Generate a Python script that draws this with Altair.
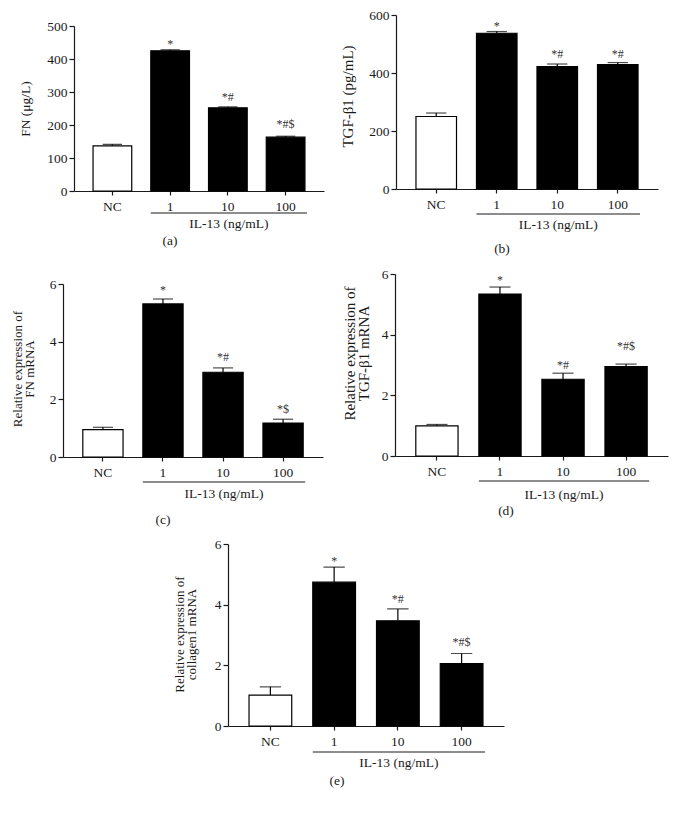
import altair as alt
import pandas as pd

# ---------------- data ----------------
cats = ["NC", "1", "10", "100"]

fn_protein = [137, 425, 252, 163]
fn_protein_err = [4, 3, 3, 3]
fn_protein_sig = ["", "*", "*#", "*#$"]
fn_protein_sig_y = [0, 433, 273, 191]

tgf_protein = [250, 537, 422, 429]
tgf_protein_err = [12, 6, 9, 7]
tgf_protein_sig = ["", "*", "*#", "*#"]
tgf_protein_sig_y = [0, 548, 452, 452]

fn_mrna = [0.95, 5.31, 2.94, 1.18]
fn_mrna_err = [0.08, 0.17, 0.15, 0.13]
fn_mrna_sig = ["", "*", "*#", "*$"]
fn_mrna_sig_y = [0, 5.65, 3.33, 1.53]

tgf_mrna = [0.99, 5.34, 2.53, 2.95]
tgf_mrna_err = [0.05, 0.23, 0.20, 0.08]
tgf_mrna_sig = ["", "*", "*#", "*#$"]
tgf_mrna_sig_y = [0, 5.67, 2.87, 3.49]

col_mrna = [1.02, 4.74, 3.47, 2.06]
col_mrna_err = [0.27, 0.50, 0.39, 0.33]
col_mrna_sig = ["", "*", "*#", "*#$"]
col_mrna_sig_y = [0, 5.31, 4.06, 2.64]

group_label = "IL-13 (ng/mL)"

FONT = "Liberation Serif"
INK = "#1a1a1a"
one = pd.DataFrame({"k": [0]})


def panel(means, errs, sigs, sig_y, ymax, yticks, title, title_size,
          plot_xy, W, H, title_dx, title_dy, line_dy, lab_dy,
          letter, letter_dx, letter_dy, cell):
    df = pd.DataFrame({
        "cat": cats,
        "mean": means,
        "upper": [m + e for m, e in zip(means, errs)],
        "sig": sigs,
        "sig_y": sig_y,
    })
    cx0, cy0, cx1, cy1 = cell
    CW, CH = cx1 - cx0, cy1 - cy0
    xl = plot_xy[0] - cx0          # plot left inside the cell
    yt = plot_xy[1] - cy0          # plot top inside the cell
    pi = po = 0.33
    step = W / (len(cats) - pi + 2 * po)
    bw = step * (1 - pi)

    xscale = alt.Scale(domain=cats, range=[xl, xl + W], paddingInner=pi, paddingOuter=po)
    xaxis = alt.Axis(title=None, labelAngle=0, tickSize=4, labelPadding=4,
                     labelFontSize=13.5, domainWidth=1.2, tickWidth=1.2,
                     offset=-(CH - (yt + H)))
    yscale = alt.Scale(domain=[0, ymax], range=[yt + H, yt], nice=False, zero=True)
    yaxis = alt.Axis(values=yticks, title=title, titleFontSize=title_size,
                     titleLineHeight=title_size - 1,
                     titleX=title_dx, titleY=yt + title_dy, titleAngle=270,
                     titleAlign="center", titleBaseline="middle",
                     tickSize=5, labelPadding=2, labelFontSize=13.5,
                     domainWidth=1.2, tickWidth=1.2, offset=-xl)

    X = alt.X("cat:N", sort=cats, scale=xscale, axis=xaxis)
    base = alt.Chart(df)

    bars = base.mark_bar(stroke="black", strokeWidth=1.2).encode(
        x=X,
        y=alt.Y("mean:Q", scale=yscale, axis=yaxis),
        fill=alt.condition("datum.cat == 'NC'", alt.value("white"), alt.value("black")),
    )
    err = base.mark_rule(color="black", strokeWidth=1.2).encode(
        x=X,
        y=alt.Y("mean:Q", scale=yscale, axis=yaxis),
        y2="upper:Q",
    )
    caps = base.mark_tick(color="black", thickness=1.2, size=bw * 0.5,
                          orient="horizontal").encode(
        x=X,
        y=alt.Y("upper:Q", scale=yscale, axis=yaxis),
    )
    sig = base.mark_text(baseline="alphabetic", fontSize=12, color="#333").encode(
        x=X,
        y=alt.Y("sig_y:Q", scale=yscale, axis=yaxis),
        text="sig:N",
    )

    x1 = xl + step * (1 + po)
    x2 = xl + step * (3 + po) + bw + 2
    underline = alt.Chart(one).mark_rule(color=INK, strokeWidth=1).encode(
        x=alt.value(x1), x2=alt.value(x2), y=alt.value(yt + H + line_dy))
    grp = alt.Chart(one).mark_text(fontSize=13.5, color=INK, baseline="middle").encode(
        x=alt.value((x1 + x2) / 2), y=alt.value(yt + H + lab_dy), text=alt.value(group_label))
    let = alt.Chart(one).mark_text(fontSize=13.5, color=INK, baseline="middle").encode(
        x=alt.value(xl + letter_dx), y=alt.value(yt + H + letter_dy), text=alt.value(letter))

    return alt.layer(bars, err, caps, sig, underline, grp, let).properties(
        width=CW, height=CH)


pa = panel(fn_protein, fn_protein_err, fn_protein_sig, fn_protein_sig_y,
           500, [0, 100, 200, 300, 400, 500], "FN (μg/L)", 13.5,
           (74, 25), 250, 165, -49, 82.5, 22, 33, "(a)", 96, 50,
           (8, 8, 336, 262))
pb = panel(tgf_protein, tgf_protein_err, tgf_protein_sig, tgf_protein_sig_y,
           600, [0, 200, 400, 600], "TGF-β1 (pg/mL)", 15,
           (396, 14), 262, 174, -48.5, 81, 25, 36, "(b)", 106, 60,
           (336, 8, 670, 262))
pc = panel(fn_mrna, fn_mrna_err, fn_mrna_sig, fn_mrna_sig_y,
           6, [0, 2, 4, 6], ["Relative expression of", "FN mRNA"], 13,
           (63, 283), 260, 173, -46, 84.5, 25, 37, "(c)", 100, 63,
           (8, 262, 336, 532))
pd_ = panel(tgf_mrna, tgf_mrna_err, tgf_mrna_sig, tgf_mrna_sig_y,
            6, [0, 2, 4, 6], ["Relative expression of", "TGF-β1 mRNA"], 15,
            (395, 273), 273, 182, -46, 79, 25, 39, "(d)", 111, 55,
            (336, 262, 670, 532))
pe = panel(col_mrna, col_mrna_err, col_mrna_sig, col_mrna_sig_y,
           6, [0, 2, 4, 6], ["Relative expression of", "collagen1 mRNA"], 13,
           (228, 543), 276, 182, -49, 90, 26, 37, "(e)", 109, 55,
           (8, 532, 670, 806))

row1 = alt.hconcat(pa, pb, spacing=0)
row2 = alt.hconcat(pc, pd_, spacing=0)

chart = alt.vconcat(row1, row2, pe, spacing=0).properties(
    padding=0, background="white"
).configure_view(stroke=None).configure_axis(
    labelFont=FONT, titleFont=FONT, labelColor=INK, titleColor=INK,
    domainColor=INK, tickColor=INK, titleFontWeight="normal", grid=False
).configure_text(font=FONT)

chart.save("out.html", embed_options={"renderer": "svg", "actions": False})
